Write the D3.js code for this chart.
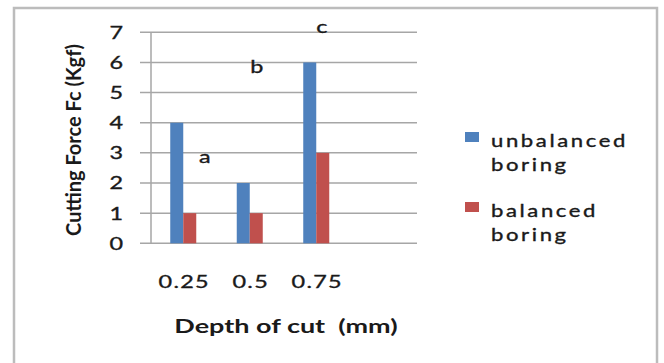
<!DOCTYPE html>
<html>
<head>
<meta charset="utf-8">
<script src="https://cdn.jsdelivr.net/npm/d3@7"></script>
<style>
  html, body { margin: 0; padding: 0; background: #fff; }
  svg { display: block; }
  text { font-family: Lato, "Open Sans", sans-serif; fill: #1a1a1a; }
  text.reg { stroke: #1a1a1a; stroke-width: 0.35; }
</style>
</head>
<body>
<svg id="chart" width="664" height="363"></svg>
<script>
// Cutting force by depth of cut, unbalanced vs balanced boring
const depths = ["0.25", "0.5", "0.75"];
const seriesNames = ["unbalanced boring", "balanced boring"];
const unbalanced = [4, 2, 6];
const balanced = [1, 1, 3];
const groupMarks = ["a", "b", "c"];
const yTicks = [0, 1, 2, 3, 4, 5, 6, 7];

// Placement of the group letters: shift from the group centre (fraction of a
// category band) and the force level of the letter's baseline.
const markShift = [0.31, 0.09, 0.07];
const markBaseline = [2.66, 5.65, 6.98];

const colors = ["#4F81BD", "#C0504D"];

const svg = d3.select("#chart");
const plot = { left: 151, right: 417, top: 32.3, bottom: 243.3 };
const sx = 1.3; // horizontal text stretch

// Outer frame
svg.append("rect")
  .attr("x", 14).attr("y", 8)
  .attr("width", 643).attr("height", 380)
  .attr("fill", "none").attr("stroke", "#bcbcbc").attr("stroke-width", 2.5);

const y = d3.scaleLinear().domain([0, 7]).range([plot.bottom, plot.top]);
const groupW = (plot.right - plot.left) / 4;
const x0 = d3.scaleBand().domain(depths)
  .range([plot.left, plot.left + groupW * depths.length]);
const x1 = d3.scaleBand().domain([0, 1]).range([0, 26]);
const cx = d => x0(d) + x0.bandwidth() / 2;

// Horizontal gridlines with tick stubs
svg.append("g").selectAll("line").data(yTicks).join("line")
  .attr("x1", plot.left - 11).attr("x2", plot.right)
  .attr("y1", d => y(d)).attr("y2", d => y(d))
  .attr("stroke", "#a6a6a6").attr("stroke-width", 1.5);

// Y axis line
svg.append("line")
  .attr("x1", plot.left).attr("x2", plot.left)
  .attr("y1", y(7)).attr("y2", y(0))
  .attr("stroke", "#a6a6a6").attr("stroke-width", 1.5);

// Y tick labels
svg.append("g").selectAll("text").data(yTicks).join("text")
  .attr("class", "reg")
  .attr("transform", d => `translate(123,${y(d)}) scale(${sx},1)`)
  .attr("text-anchor", "end").attr("dy", "0.36em")
  .attr("font-size", 18)
  .text(d => d);

// Bars
const rows = depths.map((d, i) => ({ depth: d, vals: [unbalanced[i], balanced[i]] }));
const groups = svg.append("g").selectAll("g").data(rows).join("g")
  .attr("transform", d => `translate(${cx(d.depth) - 14},0)`);
groups.selectAll("rect").data(d => d.vals.map((v, k) => ({ v, k }))).join("rect")
  .attr("x", d => x1(d.k))
  .attr("width", x1.bandwidth())
  .attr("y", d => y(d.v))
  .attr("height", d => y(0) - y(d.v))
  .attr("fill", d => colors[d.k]);

// Group letters
svg.append("g").selectAll("text").data(depths).join("text")
  .attr("class", "reg")
  .attr("transform", (d, i) => `translate(${cx(d) + markShift[i] * x0.bandwidth()},${y(markBaseline[i])}) scale(${sx},1)`)
  .attr("text-anchor", "middle")
  .attr("font-size", 18)
  .text((d, i) => groupMarks[i]);

// X category labels
svg.append("g").selectAll("text").data(depths).join("text")
  .attr("class", "reg")
  .attr("transform", d => `translate(${cx(d)},282) scale(${sx},1)`)
  .attr("text-anchor", "middle").attr("dy", "0.36em")
  .attr("font-size", 18).attr("letter-spacing", 1)
  .text(d => d);

// Axis titles
svg.append("text")
  .attr("transform", `translate(286,326) scale(1.42,1)`)
  .attr("text-anchor", "middle").attr("dy", "0.36em")
  .attr("font-size", 19).attr("font-weight", "bold")
  .text("Depth of cut\u00a0 (mm)");

svg.append("text")
  .attr("transform", `translate(73,140) rotate(-90) scale(1,1.05)`)
  .attr("text-anchor", "middle").attr("dy", "0.36em")
  .attr("font-size", 20).attr("font-weight", "bold")
  .text("Cutting Force Fc (Kgf)");

// Legend
const legend = svg.append("g").selectAll("g").data(seriesNames).join("g")
  .attr("transform", (d, i) => `translate(465,${132 + i * 70})`);
legend.append("rect")
  .attr("width", 14).attr("height", 10)
  .attr("fill", (d, i) => colors[i]);
legend.each(function (d) {
  const words = d.split(" ");
  d3.select(this).selectAll("text").data(words).join("text")
    .attr("class", "reg")
    .attr("transform", (w, j) => `translate(26,${15 + j * 24}) scale(${sx},1)`)
    .attr("font-size", 17).attr("letter-spacing", 2)
    .text(w => w);
});
</script>
</body>
</html>
